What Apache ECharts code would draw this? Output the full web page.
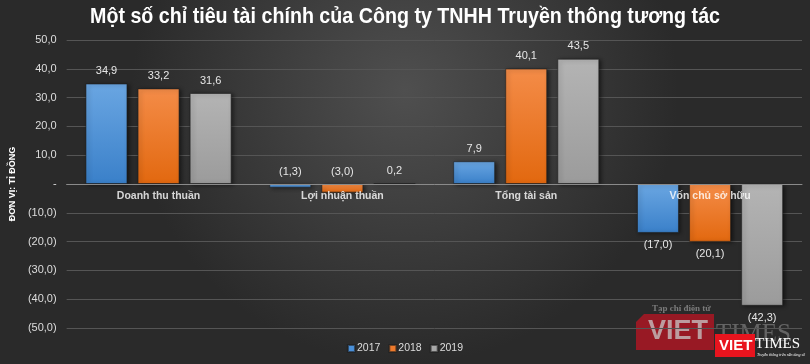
<!DOCTYPE html>
<html><head><meta charset="utf-8">
<script src="https://cdn.jsdelivr.net/npm/echarts@6/dist/echarts.min.js"></script>
<style>html,body{margin:0;padding:0;background:#333}#c{width:810px;height:364px}</style>
</head><body><div id="c"></div>
<script>
const titleText = 'Một số chỉ tiêu tài chính của Công ty TNHH Truyền thông tương tác';
const categories = ['Doanh thu thuần', 'Lợi nhuận thuần', 'Tổng tài sản', 'Vốn chủ sở hữu'];
const seriesNames = ['2017', '2018', '2019'];
const values2017 = [34.9, -1.3, 7.9, -17.0];
const values2018 = [33.2, -3.0, 40.1, -20.1];
const values2019 = [31.6, 0.2, 43.5, -42.3];
const yAxisName = 'ĐƠN VỊ: TỈ ĐỒNG';

function fmt(v){
  if (Math.abs(v) < 1e-9) return '-';
  const s = Math.abs(v).toFixed(1).replace('.', ',');
  return v < 0 ? '(' + s + ')' : s;
}
function grad(a,b){
  return new echarts.graphic.LinearGradient(0,0,0,1,[{offset:0,color:a},{offset:1,color:b}]);
}
const colors = [grad('#6aa6e2','#3a80c9'), grad('#f48c48','#e2680f'), grad('#b4b4b4','#9b9b9b')];
const legendColors = ['#4a90d9','#ee7a2c','#a8a8a8'];
const allVals = [values2017, values2018, values2019];

const titleFont = 'bold 22px "Liberation Sans", Arial, sans-serif';
const cv = document.createElement('canvas').getContext('2d');
cv.font = titleFont;
const tw = cv.measureText(titleText).width;
const sx = 630 / tw;

function mkData(vals){
  return vals.map(v=>({value:v, label:{position: v < -10 ? 'bottom' : 'top'}}));
}

const chart = echarts.init(document.getElementById('c'));
const series = seriesNames.map((n,i)=>({
  name:n, type:'bar', barWidth:42, barGap:'24%',
  data: mkData(allVals[i]),
  itemStyle:{color:colors[i], borderColor:'rgba(30,30,30,0.6)', borderWidth:1,
    shadowColor:'rgba(0,0,0,0.5)', shadowBlur:4, shadowOffsetX:2, shadowOffsetY:1},
  label:{show:true, color:'#e6e6e6', fontSize:11, distance:7, formatter:p=>fmt(p.value),
    fontFamily:'Liberation Sans, sans-serif'}
}));
series.push({
  name:'cats', type:'scatter', symbolSize:0, silent:true, z:10,
  data: categories.map(c=>[c,0]),
  label:{show:true, position:'bottom', distance:7, formatter:p=>p.name || p.value[0],
    color:'#ffffff', fontSize:10.5, fontWeight:'bold', fontFamily:'Liberation Sans, sans-serif'}
});

chart.setOption({
  backgroundColor: {type:'radial', x:0.5, y:0.25, r:0.75, colorStops:[{offset:0,color:'#4f4f4f'},{offset:1,color:'#2a2a2a'}]},
  animation:false,
  legend:{bottom:5, left:'center', itemWidth:7, itemHeight:7, itemGap:8, icon:'rect',
    textStyle:{color:'#dddddd', fontSize:10.5, fontFamily:'Liberation Sans, sans-serif', padding:[0,0,0,-3]},
    data: seriesNames.map((n,i)=>({name:n, itemStyle:{color:legendColors[i]}}))},
  grid:{left:60, right:8, top:40, bottom:36},
  xAxis:{type:'category', data:categories,
    axisLine:{onZero:true, lineStyle:{color:'#8a8a8a', width:1}},
    axisTick:{show:false},
    axisLabel:{show:false},
    z:5},
  yAxis:{type:'value', min:-50, max:50, interval:10,
    name:yAxisName, nameLocation:'middle', nameRotate:90, nameGap:31,
    nameTextStyle:{color:'#ffffff', fontSize:9, fontWeight:'bold', fontFamily:'Liberation Sans, sans-serif'},
    axisLine:{show:false}, axisTick:{show:false},
    axisLabel:{color:'#dddddd', fontSize:11, margin:10, formatter:fmt, fontFamily:'Liberation Sans, sans-serif'},
    splitLine:{lineStyle:{color:'#555555', width:1}}},
  graphic:[
    {type:'text', left:'center', top:6, z:20,
      style:{text:titleText, font:titleFont, fill:'#ffffff',
        shadowColor:'rgba(0,0,0,0.7)', shadowBlur:3, shadowOffsetX:1, shadowOffsetY:1},
      scaleX:sx, originX:405},
    {type:'group', left:636, top:304, z:1, children:[
      {type:'text', left:16, top:0, style:{text:'Tạp chí điện tử', font:'bold 9px "Liberation Serif", serif', fill:'rgba(190,190,190,0.55)'}},
      {type:'polygon', shape:{points:[[8,10],[78,10],[78,46],[0,46],[0,18]]}, style:{fill:'rgba(190,20,35,0.75)'}},
      {type:'text', left:12, top:14, style:{text:'VIET', font:'bold 27px "Liberation Sans", sans-serif', fill:'rgba(200,200,200,0.75)'}},
      {type:'text', left:80, top:18, style:{text:'TIMES', font:'25px "Liberation Serif", serif', fill:'rgba(170,170,170,0.45)'}}
    ]},
    {type:'group', left:715, top:334, z:30, children:[
      {type:'rect', shape:{x:0,y:0,width:40,height:23}, style:{fill:'#e8141e'}},
      {type:'text', left:4, top:4, style:{text:'VIET', font:'bold 15px "Liberation Sans", sans-serif', fill:'#ffffff'}},
      {type:'text', left:40, top:3, style:{text:'TIMES', font:'15px "Liberation Serif", serif', fill:'#ffffff'}},
      {type:'text', left:42, top:19, style:{text:'Truyền thông trên nền tảng số', font:'italic 4px serif', fill:'#ffffff'}}
    ]}
  ],
  series: series
});
</script>
</body></html>
